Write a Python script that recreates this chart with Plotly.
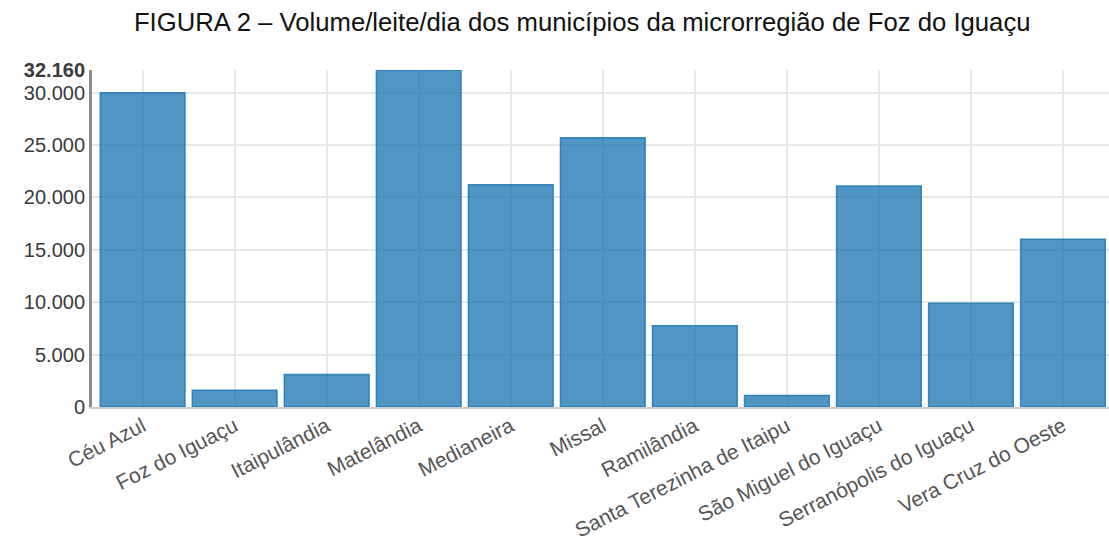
import plotly.graph_objects as go

# Milk volume per day (litres) by municipality
municipios = [
    "Céu Azul", "Foz do Iguaçu", "Itaipulândia", "Matelândia", "Medianeira",
    "Missal", "Ramilândia", "Santa Terezinha de Itaipu", "São Miguel do Iguaçu",
    "Serranópolis do Iguaçu", "Vera Cruz do Oeste",
]
volume_leite = [30000, 1600, 3100, 32160, 21200, 25700, 7750, 1100, 21100, 9900, 16000]

y_tick_vals = [0, 5000, 10000, 15000, 20000, 25000, 30000, 32160]
y_tick_text = ["0", "5.000", "10.000", "15.000", "20.000", "25.000", "30.000", "<b>32.160</b>"]

titulo = "FIGURA 2 – Volume/leite/dia dos municípios da microrregião de Foz do Iguaçu"

fig = go.Figure(
    go.Bar(
        x=list(range(len(municipios))),
        y=volume_leite,
        marker=dict(
            color="rgba(31,119,180,0.78)",
            line=dict(color="rgba(31,119,180,0.85)", width=1.5),
        ),
        hovertext=municipios,
    )
)

fig.update_layout(
    width=1109,
    height=548,
    margin=dict(l=92, r=0, t=70, b=141),
    paper_bgcolor="white",
    plot_bgcolor="white",
    bargap=0.08,
    showlegend=False,
    font=dict(family="Arial, Liberation Sans, sans-serif", color="#444"),
    title=dict(
        text=titulo,
        x=0.525,
        xanchor="center",
        y=0.96,
        yanchor="middle",
        font=dict(size=25.7, color="#111"),
    ),
)

fig.update_xaxes(
    range=[-0.55, len(municipios) - 0.5],
    tickvals=list(range(len(municipios))),
    ticktext=municipios,
    tickangle=-27,
    tickfont=dict(size=21, color="#555"),
    ticklabelstandoff=-3,
    automargin=False,
    showgrid=True,
    gridcolor="#e6e6e6",
    gridwidth=2,
    showline=True,
    linecolor="#cccccc",
    linewidth=2,
    ticks="",
    zeroline=False,
)

fig.update_yaxes(
    range=[0, max(volume_leite)],
    tickvals=y_tick_vals,
    ticktext=y_tick_text,
    tickfont=dict(size=20, color="#3a3a3a"),
    automargin=False,
    showgrid=True,
    gridcolor="#e6e6e6",
    gridwidth=2,
    showline=True,
    linecolor="#8c8c8c",
    linewidth=3,
    ticks="",
    zeroline=False,
)

fig.write_html("out.html")
